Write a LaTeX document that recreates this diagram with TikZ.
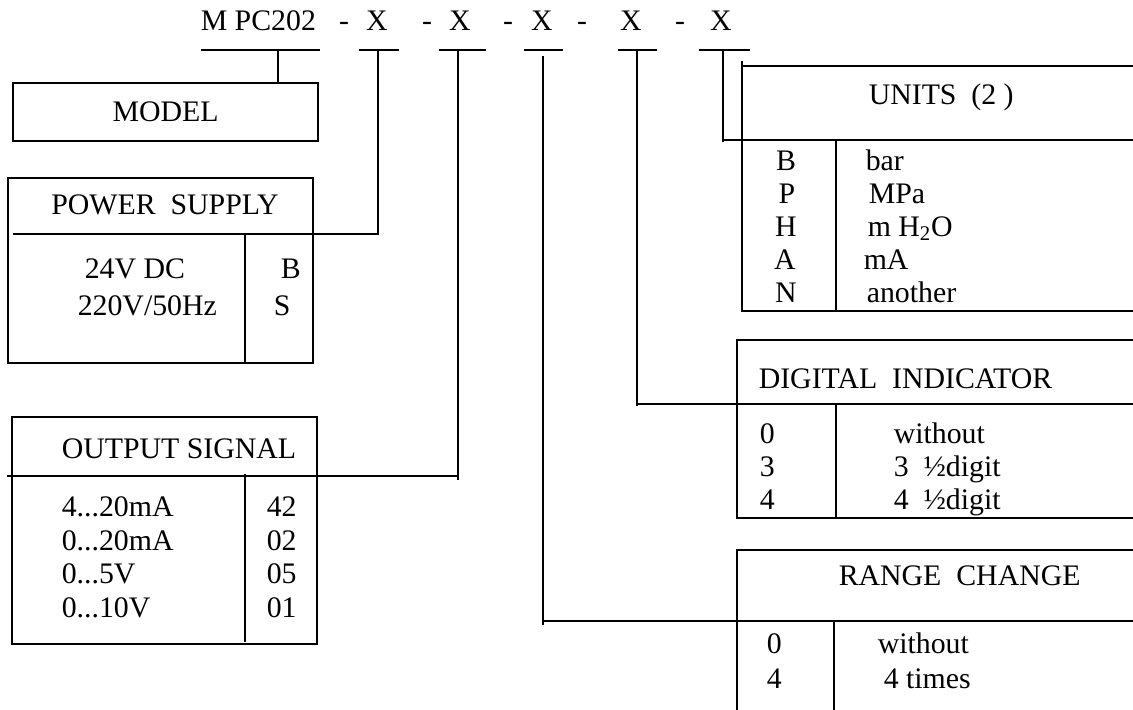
\documentclass[tikz,border=0pt]{standalone}
\usepackage{fontspec}
\setmainfont{Liberation Serif}
\tikzset{every node/.style={font=\fontsize{21.2}{25}\selectfont, inner sep=0pt},
 cell/.style={anchor=base west},
 code/.style={anchor=base},
 modelbox/.style={draw, minimum width=7.625cm, minimum height=1.45cm},
 }

\begin{document}
\begin{tikzpicture}[x=0.025cm, y=-0.025cm, line width=1.1pt]
        \useasboundingbox (0,0) rectangle (1133,710);

        % order code
        \node[cell] (mpc) at (200,30) {M PC202};
        \node[code] (dash1) at (344,30) {-};
        \node[code] (x1) at (377,30) {X};
        \node[code] (dash2) at (427,30) {-};
        \node[code] (x2) at (460,30) {X};
        \node[code] (dash3) at (508,30) {-};
        \node[code] (x3) at (542,30) {X};
        \node[code] (dash4) at (582,30) {-};
        \node[code] (x4) at (631,30) {X};
        \node[code] (dash5) at (680,30) {-};
        \node[code] (x5) at (721,30) {X};

        \draw (201,50) -- (320,50);
        \draw (359,50) -- (399,50);
        \draw (439,50) -- (486,50);
        \draw (524,50) -- (563,50);
        \draw (618,50) -- (657,50);
        \draw (699,50) -- (750,50);
        \coordinate (bar0) at (278,50);
        \coordinate (bar1) at (378,50);
        \coordinate (bar2) at (458,50);
        \coordinate (bar3) at (543,56);
        \coordinate (bar4) at (637,50);
        \coordinate (bar5) at (723,50);

        % model
        \node[modelbox] (model) at (165.5,112) {MODEL};
        \draw (bar0) -- (bar0 |- model.north);

        % power supply
        \draw (8,178) rectangle (313,363);
        \draw (bar1) |- (13,234);
        \draw (245,234) -- (245,363);
        \node[code] (psTitle) at (165,214) {POWER\ \ SUPPLY};
        \node[cell] (ps24) at (84,278) {24V DC};
        \node[cell] (ps220) at (77,315) {220V/50Hz};
        \node[cell] (psB) at (280,278) {B};
        \node[cell] (psS) at (273,315) {S};

        % output signal
        \draw (12,417) rectangle (317,644);
        \draw (bar2) -- (458,480);
        \draw (458,476) -- (7,476);
        \draw (245,474) -- (245,642);
        \node[cell] (osTitle) at (61,458) {OUTPUT SIGNAL};
        \node[cell] (os1) at (61,516) {4...20mA};
        \node[cell] (os2) at (61,550) {0...20mA};
        \node[cell] (os3) at (61,583) {0...5V};
        \node[cell] (os4) at (61,617) {0...10V};
        \node[cell] (oc1) at (266,516) {42};
        \node[cell] (oc2) at (266,550) {02};
        \node[cell] (oc3) at (266,583) {05};
        \node[cell] (oc4) at (266,617) {01};

        % units
        \draw (bar5) -- (723,142);
        \draw (723,140) -- (1133,140);
        \draw (1133,66) -- (742,66);
        \draw (742,61) -- (742,312);
        \draw (742,311) -- (1133,311);
        \draw (836,140) -- (836,311);
        \node[cell] (unTitle) at (868,104) {UNITS\ \ (2 )};
        \node[code] (unB) at (786,170) {B};
        \node[code] (unP) at (787,203) {P};
        \node[code] (unH) at (786,236) {H};
        \node[code] (unA) at (785,269) {A};
        \node[code] (unN) at (786,302) {N};
        \node[cell] (unBar) at (865,170) {bar};
        \node[cell] (unMPa) at (868,203) {MPa};
        \node[cell] (unWater) at (867,236) {m H\textsubscript{2}O};
        \node[cell] (unmA) at (863,269) {mA};
        \node[cell] (unOther) at (866,302) {another};

        % digital indicator
        \draw (bar4) -- (637,406);
        \draw (637,404) -- (1133,404);
        \draw (1133,340) -- (737,340) -- (737,518) -- (1133,518);
        \draw (836,404) -- (836,518);
        \node[cell] (diTitle) at (758,388) {DIGITAL\ \ INDICATOR};
        \node[cell] (di0) at (759,443) {0};
        \node[cell] (di3) at (759,476) {3};
        \node[cell] (di4) at (759,509) {4};
        \node[cell] (diNone) at (893,443) {without};
        \node[cell] (diThree) at (893,476) {3\ \ ½digit};
        \node[cell] (diFour) at (893,509) {4\ \ ½digit};

        % range change
        \draw (bar3) -- (543,625);
        \draw (543,621) -- (1133,621);
        \draw (1133,550) -- (737,550) -- (737,710);
        \draw (834,621) -- (834,710);
        \node[cell] (rcTitle) at (838,585) {RANGE\ \ CHANGE};
        \node[cell] (rc0) at (766,653) {0};
        \node[cell] (rc4) at (766,688) {4};
        \node[cell] (rcNone) at (877,653) {without};
        \node[cell] (rcFour) at (883,688) {4 times};
    \end{tikzpicture}
\end{document}
